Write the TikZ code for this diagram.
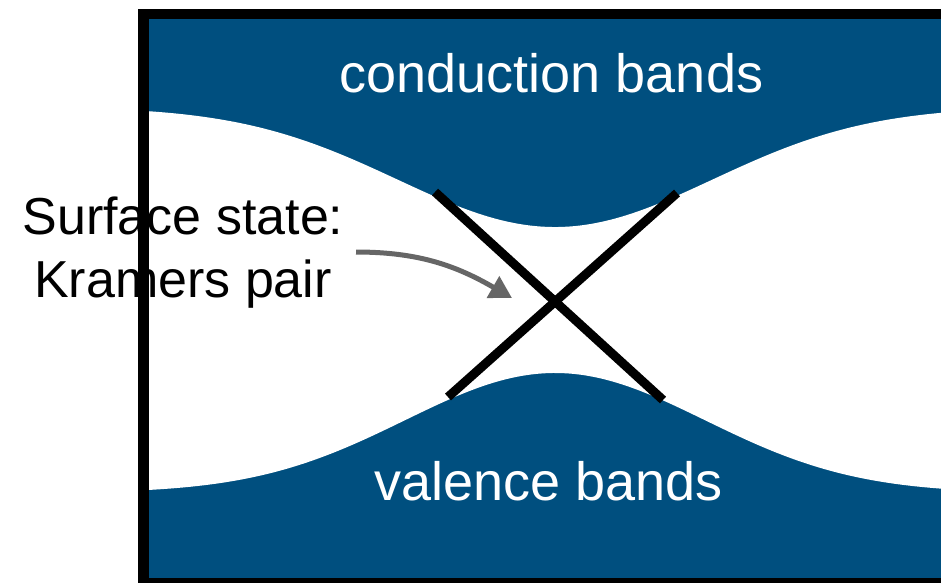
\documentclass[tikz,border=0pt]{standalone}
\usepackage{fontspec}
\setmainfont{Liberation Sans}
\usetikzlibrary{arrows.meta}
\definecolor{bandblue}{RGB}{0,79,127}
\definecolor{arrowgray}{RGB}{102,102,102}
\begin{document}
\begin{tikzpicture}[x=1pt,y=-1pt,
  bandlabel/.style={text=white,font=\fontsize{54}{64}\selectfont,anchor=base,inner sep=0pt},
  sidelabel/.style={text=black,font=\fontsize{52}{63}\selectfont,align=center,inner sep=0pt},
  crossline/.style={line width=9pt,black},
  frameline/.style={line width=10.5pt,black},
  pointer/.style={line width=5pt,arrowgray,-{Triangle[length=22pt,width=24pt]}}]
\useasboundingbox (0,0) rectangle (941,582);
\clip (0,0) rectangle (941,582);
% bands
\fill[bandblue] (149,19) rectangle (990,578);
\fill[white] plot[domain=149:941,samples=150] (\x,{107+120*exp(-0.5*((\x-555)/157)^2)})
  -- plot[domain=941:149,samples=150] (\x,{493-120*exp(-0.5*((\x-555)/150)^2)}) -- cycle;
% labels
\node[sidelabel] (side) at (183,253) {Surface state:\\Kramers pair};
% frame
\draw[frameline] (143.5,14) rectangle (995,583);
% surface state crossing
\coordinate (xa1) at (435,192);
\coordinate (xa2) at (663,400);
\coordinate (xb1) at (677,193);
\coordinate (xb2) at (448,397);
\draw[crossline] (xa1) -- (xa2);
\draw[crossline] (xb1) -- (xb2);
\node[bandlabel] (cond) at (551.5,92) {conduction bands};
\node[bandlabel] (val) at (548.5,500) {valence bands};
% pointer
\coordinate (arrowstart) at (356,252);
\coordinate (arrowend) at (512,298);
\draw[pointer] (arrowstart) to[out=0,in=150] (arrowend);
\end{tikzpicture}
\end{document}
